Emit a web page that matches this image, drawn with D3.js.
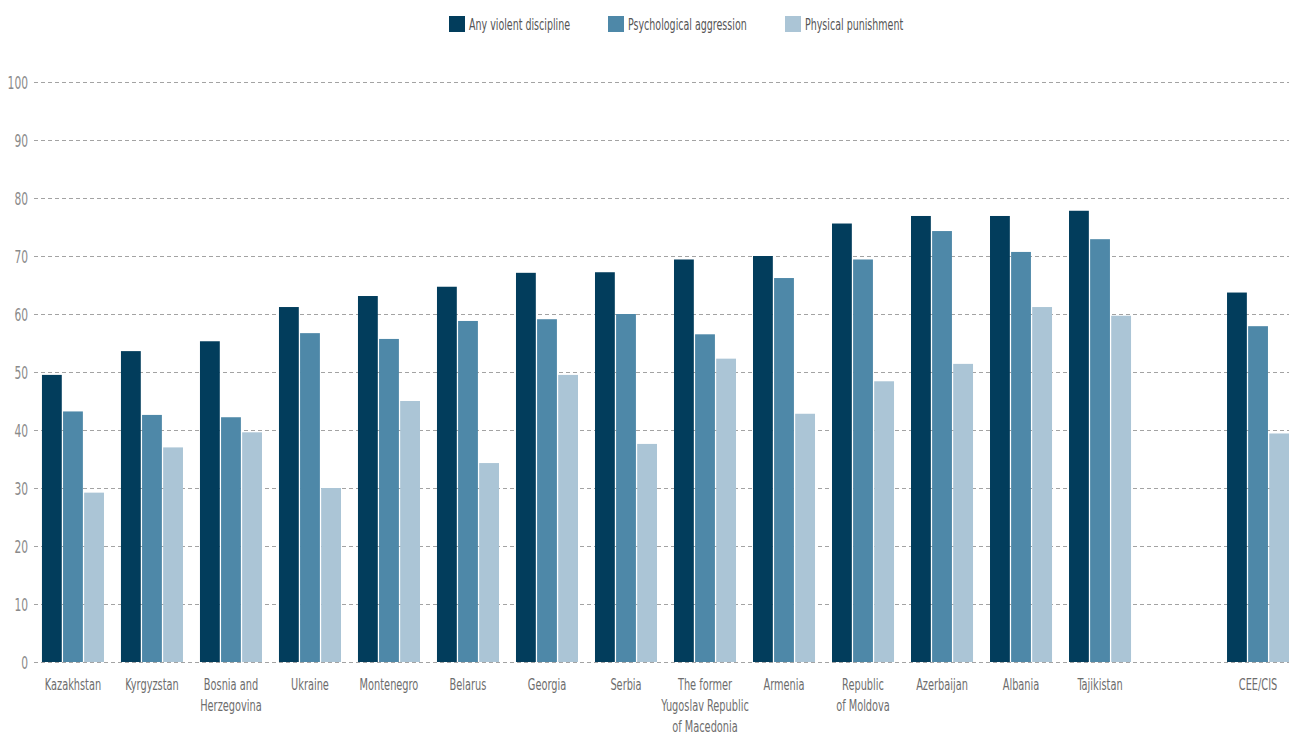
<!DOCTYPE html>
<html lang="en">
<head>
<meta charset="utf-8">
<title>Violent discipline</title>
<script src="https://d3js.org/d3.v7.min.js"></script>
<style>
  body { margin: 0; background: #fff; }
  text { font-family: "DejaVu Sans Condensed", "Liberation Sans", sans-serif; fill: #6d6d6d; }
</style>
</head>
<body>
<script>
// data (percent)
var countries = ["Kazakhstan", "Kyrgyzstan", "Bosnia and|Herzegovina", "Ukraine", "Montenegro", "Belarus",
  "Georgia", "Serbia", "The former|Yugoslav Republic|of Macedonia", "Armenia", "Republic|of Moldova",
  "Azerbaijan", "Albania", "Tajikistan", "", "CEE/CIS"];
var seriesNames = ["Any violent discipline", "Psychological aggression", "Physical punishment"];
var colors = ["#023d5c", "#4e88a8", "#abc5d6"];
var anyViolent   = [49.5, 53.6, 55.3, 61.2, 63.1, 64.7, 67.1, 67.2, 69.4, 70.0, 75.6, 76.9, 76.9, 77.8, null, 63.7];
var psychAggr    = [43.2, 42.6, 42.2, 56.7, 55.7, 58.8, 59.1, 60.0, 56.5, 66.2, 69.4, 74.3, 70.7, 72.9, null, 57.9];
var physPunish   = [29.2, 37.0, 39.6, 30.0, 45.0, 34.3, 49.5, 37.6, 52.3, 42.8, 48.4, 51.4, 61.2, 59.7, null, 39.4];
var yTicks = [0, 10, 20, 30, 40, 50, 60, 70, 80, 90, 100];

var width = 1289, height = 737;
var svg = d3.select("body").append("svg")
    .attr("width", width)
    .attr("height", height);

var x0 = d3.scaleBand()
    .domain(d3.range(countries.length))
    .range([33.5, 1297.5])
    .paddingInner(0.215)
    .paddingOuter(0.107);

var x1 = d3.scaleBand()
    .domain([0, 1, 2])
    .range([0, x0.bandwidth()])
    .paddingInner(0.06);

var y = d3.scaleLinear()
    .domain([0, 100])
    .range([662, 82]);

// condensed text: squeeze horizontally to mimic the narrow original face
function narrowText(parent, x, yy, size, sx, anchor) {
  return parent.append("g")
    .attr("transform", "translate(" + x + "," + yy + ") scale(" + sx + ",1)")
    .append("text")
    .attr("font-size", size + "px")
    .attr("text-anchor", anchor);
}

// gridlines + tick labels
var grid = svg.append("g");
grid.selectAll("line")
    .data(yTicks)
    .enter()
    .append("line")
    .attr("x1", 34)
    .attr("x2", width)
    .attr("y1", function(d) { return y(d) + 0.5; })
    .attr("y2", function(d) { return y(d) + 0.5; })
    .attr("stroke", "#a3a3a3")
    .attr("stroke-width", 1)
    .attr("stroke-dasharray", "4,3");

yTicks.forEach(function(d) {
  narrowText(grid, 28, y(d) + 7, 18, 0.66, "end")
    .style("fill", "#8a8a8a")
    .text(d);
});

// bars
var series = [anyViolent, psychAggr, physPunish];
series.forEach(function(vals, s) {
  var rows = vals.map(function(v, i) { return { i: i, v: v }; })
    .filter(function(d) { return d.v != null; });
  svg.append("g")
    .selectAll("rect")
    .data(rows)
    .enter()
    .append("rect")
    .attr("x", function(d) { return x0(d.i) + x1(s); })
    .attr("y", function(d) { return y(d.v); })
    .attr("width", x1.bandwidth())
    .attr("height", function(d) { return y(0) - y(d.v); })
    .attr("fill", colors[s]);
});

// category labels
var lab = svg.append("g");
countries.forEach(function(c, i) {
  if (!c) return;
  var t = narrowText(lab, x0(i) + x0.bandwidth() / 2, 690, 16.5, 0.66, "middle");
  c.split("|").forEach(function(line, k) {
    t.append("tspan")
      .attr("x", 0)
      .attr("dy", k === 0 ? 0 : 21)
      .text(line);
  });
});

// legend
var legX = [449, 608, 785];
var leg = svg.append("g");
seriesNames.forEach(function(n, i) {
  leg.append("rect")
    .attr("x", legX[i])
    .attr("y", 16)
    .attr("width", 16)
    .attr("height", 16)
    .attr("fill", colors[i]);
  narrowText(leg, legX[i] + 20, 30, 16.5, 0.64, "start")
    .style("fill", "#555")
    .text(n);
});
</script>
</body>
</html>
